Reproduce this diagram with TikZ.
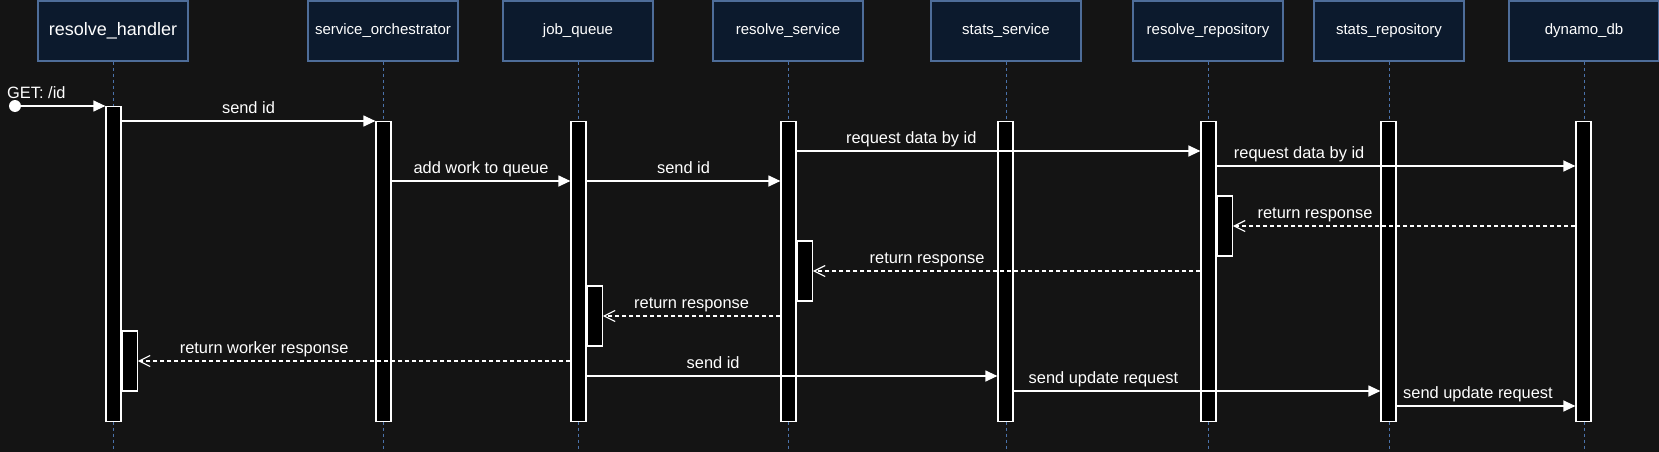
\documentclass[tikz,border=0pt]{standalone}
\usepackage{fontspec}
\setmainfont{Liberation Sans}
\usetikzlibrary{arrows.meta,positioning}
\definecolor{canvas}{HTML}{141414}
\definecolor{actorfill}{HTML}{0C1A2D}
\definecolor{actorline}{HTML}{4E6D99}
\definecolor{lifeblue}{HTML}{4A72AB}
\begin{document}
\begin{tikzpicture}[
  x=1pt, y=-1pt,
  actor/.style={draw=actorline, fill=actorfill, line width=1.4pt, minimum width=150pt, minimum height=60pt,
    inner sep=0pt, text=white, font=\fontsize{15}{18}\selectfont},
  lifeline/.style={draw=lifeblue, line width=1pt, dash pattern=on 3pt off 3pt},
  bar/.style={draw=white, fill=black, line width=1.2pt, minimum width=15pt, inner sep=0pt},
  msg/.style={draw=white, line width=1.2pt, -{Triangle[length=12pt,width=11pt]}},
  reply/.style={draw=white, line width=1.2pt, dash pattern=on 4pt off 3pt, -{Straight Barb[length=11pt,width=11pt]}},
  lbl/.style={text=white, font=\fontsize{16.4}{19}\selectfont, anchor=base, yshift=7.5pt, inner sep=0pt}
]
\fill[canvas] (0,0) rectangle (1659,452);
\useasboundingbox (0,0) rectangle (1659,452);

% participants
\node[actor, font=\fontsize{18}{21}\selectfont] (rh) at (113,31) {resolve\_handler};
\node[actor] (so) at (383,31) {service\_orchestrator};
\node[actor] (jq) at (578,31) {job\_queue};
\node[actor] (rs) at (788,31) {resolve\_service};
\node[actor] (ss) at (1006,31) {stats\_service};
\node[actor] (rr) at (1208,31) {resolve\_repository};
\node[actor] (sr) at (1389,31) {stats\_repository};
\node[actor] (db) at (1584,31) {dynamo\_db};

\foreach \n in {rh,so,jq,rs,ss,rr,sr,db}
  \draw[lifeline] (\n.south) -- (\n.south |- 0,452);

% activation bars
\node[bar, minimum height=315pt, anchor=north] (rhbar) at (113.5,106) {};
\foreach \n/\x in {so/383.5,jq/578.5,rs/788.5,ss/1005.5,rr/1208.5,sr/1388.5,db/1583.5}
  \node[bar, minimum height=300pt, anchor=north] (\n bar) at (\x,121) {};

\node[bar, minimum height=60pt, anchor=west] (rract) at (rrbar.east |- 0,226) {};
\node[bar, minimum height=60pt, anchor=west] (rsact) at (rsbar.east |- 0,271) {};
\node[bar, minimum height=60pt, anchor=west] (jqact) at (jqbar.east |- 0,316) {};
\node[bar, minimum height=60pt, anchor=west] (rhact) at (rhbar.east |- 0,361) {};

% calls
\node[circle, fill=white, minimum size=12pt, inner sep=0pt] (start) at (15,106) {};
\node[lbl, anchor=base west] (getlbl) at ([xshift=-8pt]start.center) {GET: /id};
\draw[msg] (start) -- (rhbar.north west);
\draw[msg] (rhbar.east |- 0,121) -- node[lbl, pos=.5] (m1) {send id} (sobar.north west);
\draw[msg] (sobar.east |- 0,181) -- node[lbl, pos=.5] (m2) {add work to queue} (jqbar.west |- 0,181);
\draw[msg] (jqbar.east |- 0,181) -- node[lbl, pos=.5] (m3) {send id} (rsbar.west |- 0,181);
\draw[msg] (rsbar.east |- 0,151) -- node[lbl, pos=.284] (m4) {request data by id} (rrbar.west |- 0,151);
\draw[msg] (rrbar.east |- 0,166) -- node[lbl, pos=.23] (m5) {request data by id} (dbbar.west |- 0,166);

% replies
\draw[reply] (dbbar.west |- 0,226) -- node[lbl, pos=.76] (r1) {return response} (rract.east);
\draw[reply] (rrbar.west |- 0,271) -- node[lbl, pos=.705] (r2) {return response} (rsact.east);
\draw[reply] (rsbar.west |- 0,316) -- node[lbl, pos=.5] (r3) {return response} (jqact.east);
\draw[reply] (jqbar.west |- 0,361) -- node[lbl, pos=.708] (r4) {return worker response} (rhact.east);

% stats update
\draw[msg] (jqbar.east |- 0,376) -- node[lbl, pos=.308] (m6) {send id} (ssbar.west |- 0,376);
\draw[msg] (ssbar.east |- 0,391) -- node[lbl, pos=.245] (m7) {send update request} (srbar.west |- 0,391);
\draw[msg] (srbar.east |- 0,406) -- node[lbl, pos=.455] (m8) {send update request} (dbbar.west |- 0,406);
\end{tikzpicture}
\end{document}
